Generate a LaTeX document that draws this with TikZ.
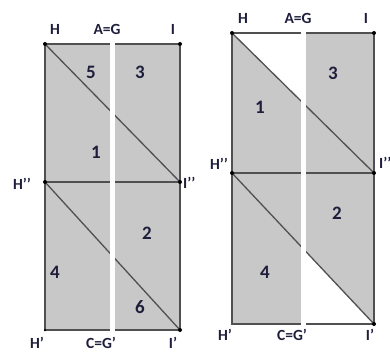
\documentclass[tikz,border=0pt]{standalone}
\usepackage{fontspec}
\setmainfont{Carlito}
\definecolor{fillg}{HTML}{C8C8C8}
\definecolor{edge}{HTML}{505050}
\definecolor{lab}{HTML}{1E1E3C}
\begin{document}
\begin{tikzpicture}[x=1pt,y=-1pt,
  edgeline/.style={draw=edge,line width=1.3pt},
  lbl/.style={text=lab,font=\bfseries\fontsize{15.5}{16}\selectfont,inner sep=0pt},
  num/.style={text=lab,font=\bfseries\fontsize{19}{20}\selectfont,inner sep=0pt},
  pt/.style={fill=black,circle,inner sep=0pt,minimum size=4pt}]
\useasboundingbox (0,0) rectangle (390,355);
% ---------- left figure ----------
\coordinate (LH) at (45,44);
\coordinate (LI) at (180,44);
\coordinate (LH2) at (45,182);
\coordinate (LI2) at (180,182);
\coordinate (LH1) at (45,330);
\coordinate (LI1) at (180,330);
\fill[fillg] (LH) rectangle (LI1);
\draw[edgeline] (LH) -- (LI) -- (LI1) -- (LH1) -- cycle;
\draw[edgeline] (LH2) -- (LI2);
\draw[edgeline] (LH) -- (LI2);
\draw[edgeline] (LH2) -- (LI1);
\fill[white] (110,38) rectangle (115,336);
\foreach \p in {LH,LI,LH2,LI2,LI1} \node[pt] at (\p) {};
\node[pt,minimum size=2.5pt] at (LH1) {};
\node[lbl] (lH) at (55,29) {H};
\node[lbl] (lAG) at (107,29) {A=G};
\node[lbl] (lI) at (173,29) {I};
\node[num] (l5) at (91,72) {5};
\node[num] (l3) at (140,72) {3};
\node[num] (l1) at (96,152) {1};
\node[lbl] (lH2) at (22,184) {H'{}'};
\node[lbl,anchor=west] (lI2) at (183,183) {I'{}'};
\node[num] (l2) at (147,233) {2};
\node[num] (l4) at (55,272) {4};
\node[num] (l6) at (140,307) {6};
\node[lbl] (lH1) at (37,343) {H'};
\node[lbl] (lCG) at (101,343) {C=G'};
\node[lbl] (lI1) at (173,343) {I'};
% ---------- right figure ----------
\coordinate (RH) at (232,33);
\coordinate (RI) at (374,33);
\coordinate (RH2) at (232,173);
\coordinate (RI2) at (374,173);
\coordinate (RH1) at (232,324);
\coordinate (RI1) at (374,324);
\fill[fillg] (RH) rectangle (RI1);
\begin{scope}
  \clip (220,20) rectangle (301,340);
  \fill[white] (RH) -- (RI) -- (RI2) -- cycle;
\end{scope}
\begin{scope}
  \clip (306,20) rectangle (390,340);
  \fill[white] (RH2) -- (RH1) -- (RI1) -- cycle;
\end{scope}
\draw[edgeline] (RH) -- (RI) -- (RI1) -- (RH1) -- cycle;
\draw[edgeline] (RH2) -- (RI2);
\draw[edgeline] (RH) -- (RI2);
\draw[edgeline] (RH2) -- (RI1);
\fill[white] (301,27) rectangle (306,330);
\foreach \p in {RH,RI,RH2,RI2,RI1} \node[pt] at (\p) {};
\node[lbl] (rH) at (243,18) {H};
\node[lbl] (rAG) at (298,18) {A=G};
\node[lbl] (rI) at (366,18) {I};
\node[num] (r3) at (333,73) {3};
\node[num] (r1) at (260,107) {1};
\node[lbl] (rH2) at (219,164) {H'{}'};
\node[lbl,anchor=west] (rI2) at (379,163) {I'{}'};
\node[num] (r2) at (337,213) {2};
\node[num] (r4) at (265,272) {4};
\node[lbl] (rH1) at (225,335) {H'};
\node[lbl] (rCG) at (292,335) {C=G'};
\node[lbl] (rI1) at (370,335) {I'};
\end{tikzpicture}
\end{document}
